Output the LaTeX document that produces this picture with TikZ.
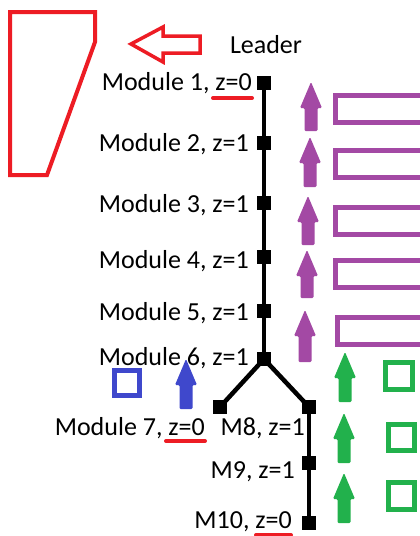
\documentclass[tikz,border=0pt]{standalone}
\usepackage{fontspec}
\setmainfont{Carlito}
\definecolor{cred}{HTML}{ED1C24}
\definecolor{cpurple}{HTML}{A349A4}
\definecolor{cgreen}{HTML}{22B14C}
\definecolor{cblue}{HTML}{3F48CC}
\newcommand\fatarrow[4]{%
  \fill[#1, rounded corners=1.2pt] (#2-6.5,#4) -- (#2-6.5,#3+26) -- (#2-11,#3+26) -- (#2,#3) -- (#2+11,#3+26) -- (#2+6.5,#3+26) -- (#2+6.5,#4) -- cycle;}
\tikzset{
  mod/.style={fill=black, minimum size=14pt, inner sep=0pt},
  lbl/.style={anchor=base east, inner sep=0pt, font=\fontsize{26}{30}\selectfont},
  link/.style={line width=4.5pt, black},
  uline/.style={cred, line width=4pt, line cap=round},
  box/.style={line width=5pt}
}
\begin{document}
\begin{tikzpicture}[x=1pt, y=-1pt]
\clip (0,0) rectangle (420,536);
\fill[white] (0,0) rectangle (420,536);
% red trapezoid and arrow
\draw[cred, line width=4pt, line join=miter] (10,12) -- (95,12) -- (95,42) -- (47,175) -- (10,175) -- cycle;
\draw[cred, line width=3.5pt] (131,44) -- (163,27) -- (163,36) -- (200,36) -- (200,53) -- (163,53) -- (163,62) -- cycle;
% nodes
\node[mod] (m1) at (264,83) {};
\node[mod] (m2) at (264,143) {};
\node[mod] (m3) at (264,203) {};
\node[mod] (m4) at (264,257) {};
\node[mod] (m5) at (264,311) {};
\node[mod] (m6) at (264,359) {};
\node[mod] (m7) at (220,407) {};
\node[mod] (m8) at (309,407) {};
\node[mod] (m9) at (309,463) {};
\node[mod] (m10) at (309,523) {};
% links
\draw[link] (m1.center) -- (m2.center) -- (m3.center) -- (m4.center) -- (m5.center) -- (m6.center);
\draw[link] (m6.center) -- (m7.center);
\draw[link] (m6.center) -- (m8.center);
\draw[link] (m8.center) -- (m9.center) -- (m10.center);
% labels
\node[lbl, anchor=base] (lead) at (266,53) {Leader};
\node[lbl] (l1) at (252,90) {Module 1, z=0};
\node[lbl] (l2) at (249,151) {Module 2, z=1};
\node[lbl] (l3) at (249,212) {Module 3, z=1};
\node[lbl] (l4) at (249,268) {Module 4, z=1};
\node[lbl] (l5) at (249,320) {Module 5, z=1};
\node[lbl] (l6) at (249,365) {Module 6, z=1};
\node[lbl] (l7) at (205,435) {Module 7, z=0};
\node[lbl] (l8) at (305,435) {M8, z=1};
\node[lbl] (l9) at (295,478) {M9, z=1};
\node[lbl] (l10) at (292,528) {M10, z=0};
% red underlines
\draw[uline] (213,98) -- (252,98);
\draw[uline] (166,441) -- (205,441);
\draw[uline] (256,535) -- (291,535);
% purple arrows and boxes
\fatarrow{cpurple}{311}{82}{131}
\fatarrow{cpurple}{310}{137}{187}
\fatarrow{cpurple}{308}{196}{245}
\fatarrow{cpurple}{307}{250}{298}
\fatarrow{cpurple}{305}{310}{362}
\draw[cpurple, box] (335.5,95.5) rectangle (425,122.5);
\draw[cpurple, box] (335.5,150.5) rectangle (425,177.5);
\draw[cpurple, box] (335.5,207.5) rectangle (425,234.5);
\draw[cpurple, box] (335.5,260.5) rectangle (425,287.5);
\draw[cpurple, box] (337.5,317.5) rectangle (425,344.5);
% green arrows and boxes
\fatarrow{cgreen}{345}{352}{402}
\fatarrow{cgreen}{344}{413}{463}
\fatarrow{cgreen}{344}{473}{523}
\draw[cgreen, box] (385.5,362.5) rectangle (412.5,389.5);
\draw[cgreen, box] (388.5,424.5) rectangle (414.5,450.5);
\draw[cgreen, box] (388.5,482.5) rectangle (414.5,509.5);
% blue arrow and box
\fatarrow{cblue}{186}{359}{409}
\draw[cblue, box] (114.5,370.5) rectangle (139.5,395.5);
\end{tikzpicture}
\end{document}
